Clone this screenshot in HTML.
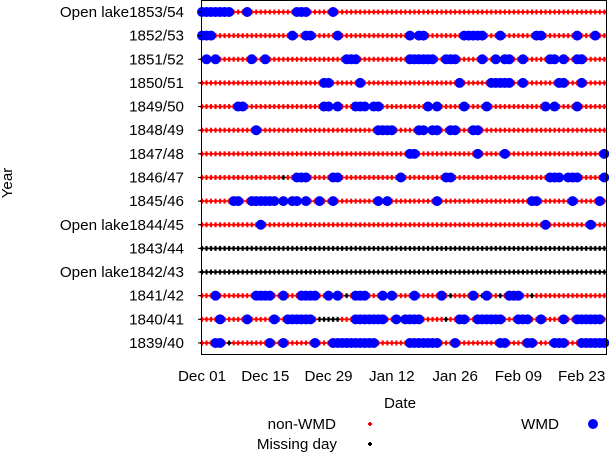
<!DOCTYPE html>
<html><head><meta charset="utf-8"><style>
body{margin:0;background:#fff;font-family:"Liberation Sans",sans-serif;}
svg text{font-family:"Liberation Sans",sans-serif;font-size:15.2px;fill:#000;}
</style></head><body>
<svg id="chart" width="609" height="454" xmlns="http://www.w3.org/2000/svg">
<g id="plot"></g>
<rect x="201.5" y="0.5" width="405" height="354" fill="none" stroke="#000" stroke-width="1"/>
<g id="yl"></g>
<g id="xl"></g>
<text x="400" y="408" text-anchor="middle">Date</text>
<text x="12" y="183" text-anchor="middle" transform="rotate(-90 12 183)">Year</text>
<g>
<text x="336" y="429" text-anchor="end">non-WMD</text>
<g><rect x="368" y="423" width="4" height="2" fill="#f00"/><rect x="369" y="422" width="2" height="4" fill="#f00"/></g>
<text x="559" y="429" text-anchor="end">WMD</text>
<circle cx="593" cy="424" r="5" fill="#00f"/>
<text x="337" y="449" text-anchor="end">Missing day</text>
<g><rect x="368" y="443" width="4" height="2" fill="#000"/><rect x="369" y="442" width="2" height="4" fill="#000"/></g>
</g>
</svg>
<script>
const years=["Open lake1853/54","1852/53","1851/52","1850/51","1849/50","1848/49","1847/48","1846/47","1845/46","Open lake1844/45","1843/44","Open lake1842/43","1841/42","1840/41","1839/40"];
const tickDays=[0,14,28,42,56,70,84];
const tickLabels=["Dec 01","Dec 15","Dec 29","Jan 12","Jan 26","Feb 09","Feb 23"];
const nDays=90;
const wmd=[
[0,1,2,3,4,5,6,10,21,22,23,29],
[0,1,2,20,23,24,30,46,48,49,58,59,60,61,62,66,74,75,83,87],
[1,3,11,14,32,33,34,46,47,48,49,50,51,54,55,56,62,65,67,68,71,77,78,80,83,84],
[27,28,35,57,64,65,66,67,68,71,79,80,84],
[8,9,27,28,30,34,35,36,38,39,50,52,58,63,76,78,83],
[12,39,40,41,42,48,49,51,52,55,56,60,61],
[46,47,61,67,89],
[21,22,23,29,30,44,54,55,77,78,79,81,82,83,89],
[7,8,11,12,13,14,15,16,18,20,21,23,26,29,39,41,52,73,74,82,88],
[13,76,86],
[],[],
[3,12,13,14,15,18,22,23,24,25,28,30,34,35,36,40,42,47,53,60,63,68,69,70],
[4,10,16,19,20,21,22,23,24,34,35,36,37,38,39,40,43,45,46,47,48,57,58,61,62,63,64,65,66,70,71,72,75,80,83,84,85,86,87,88],
[3,4,15,18,25,29,30,31,32,33,34,35,36,37,38,46,47,48,49,50,51,52,56,66,67,72,73,78,79,80,84,85,86,87,88,89]
];
const missing=[[],[],[],[],[],[],[],[18],[],[],"all","all",[32,55,62,66,73],[26,27,28,29,30,54],[6]];
const NS="http://www.w3.org/2000/svg";
function xS(d){return 202+d*4.52;}
function yS(i){return 12+i*23.64;}
const plot=document.getElementById('plot'),yl=document.getElementById('yl'),xl=document.getElementById('xl');
function mk(t,a,p){const e=document.createElementNS(NS,t);for(const k in a)e.setAttribute(k,a[k]);p.appendChild(e);return e;}
years.forEach((yr,i)=>{
  const y=yS(i);
  const g=mk('g',{},plot);
  
  
  const miss=missing[i];
  for(let d=0;d<nDays;d++){
    const isM=miss==="all"||miss.includes(d);
    const c=isM?"#000":"#f00";
    const x=xS(d);
    mk('rect',{x:x-2.3,y:y-0.6,width:4.6,height:1.2,fill:c},g);
    mk('rect',{x:x-2,y:y-1,width:4,height:2,fill:c},g);
    mk('rect',{x:x-1,y:y-2.5,width:2,height:5,fill:c},g);
  }
  wmd[i].forEach(d=>{
    const c=mk('circle',{cx:xS(d),cy:y,r:5,fill:"#00f"},g);
    
    
  });
  mk('line',{x1:198,x2:202,y1:y,y2:y,stroke:"#000"},yl);
  const t=mk('text',{x:184,y:y+5,'text-anchor':'end'},yl);
  t.textContent=yr;
  
  
});
tickDays.forEach((d,k)=>{
  const t=mk('text',{x:xS(d),y:381,'text-anchor':'middle'},xl);
  t.textContent=tickLabels[k];
  
  
});
</script>
</body></html>
